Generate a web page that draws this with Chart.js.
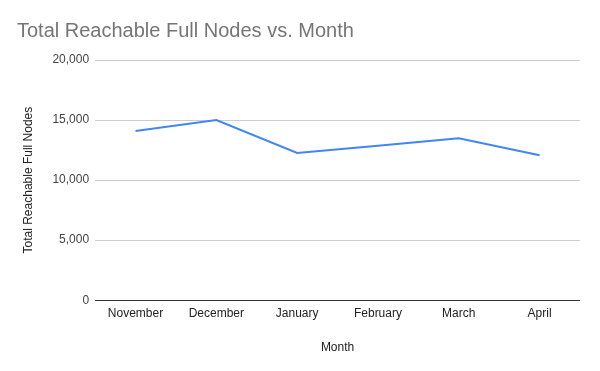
<!DOCTYPE html>
<html>
<head>
<meta charset="utf-8">
<script src="https://cdn.jsdelivr.net/npm/chart.js@4/dist/chart.umd.min.js"></script>
<style>
  html, body { margin: 0; padding: 0; background: #fff; }
  #wrap { width: 600px; height: 371px; }
</style>
</head>
<body>
<div id="wrap"><canvas id="nodes_chart" width="600" height="371"></canvas></div>
<script>
const months = ['November', 'December', 'January', 'February', 'March', 'April'];
const reachableNodes = [14080, 15000, 12260, 12870, 13490, 12070];
const yTicks = [0, 5000, 10000, 15000, 20000];

const ctx = document.getElementById('nodes_chart').getContext('2d');

Chart.defaults.font.family = "'Liberation Sans', Arial, sans-serif";
Chart.defaults.font.size = 12;
Chart.defaults.color = '#222222';

const chart = new Chart(ctx, {
    type: 'line',
    data: {
        labels: months,
        datasets: [{
            label: 'Total Reachable Full Nodes',
            data: reachableNodes,
            borderColor: '#4285F4',
            borderWidth: 2,
            pointRadius: 0,
            tension: 0,
            fill: false
        }]
    },
    options: {
        responsive: false,
        animation: false,
        layout: {
            padding: { left: 17, right: 20, bottom: 12 }
        },
        plugins: {
            legend: { display: false },
            tooltip: { enabled: false },
            title: {
                display: true,
                text: 'Total Reachable Full Nodes vs. Month',
                align: 'start',
                color: '#757575',
                font: { size: 20, weight: 'normal' },
                padding: { top: 19, bottom: 17 }
            }
        },
        scales: {
            x: {
                offset: true,
                grid: { display: false, drawTicks: false },
                border: { display: false },
                ticks: { padding: 6, color: '#222222', maxRotation: 0 },
                title: {
                    display: true,
                    text: 'Month',
                    color: '#222222',
                    padding: { top: 14 }
                }
            },
            y: {
                min: 0,
                max: 20000,
                afterBuildTicks: (axis) => {
                    axis.ticks = yTicks.map(v => ({ value: v }));
                },
                grid: {
                    drawTicks: false,
                    color: (c) => c.tick && c.tick.value === 0 ? '#333333' : '#cccccc',
                    lineWidth: 1
                },
                border: { display: false },
                ticks: {
                    padding: 6,
                    color: '#444444',
                    callback: (v) => v.toLocaleString('en-US')
                },
                title: {
                    display: true,
                    text: 'Total Reachable Full Nodes',
                    color: '#222222',
                    padding: { bottom: 11 }
                }
            }
        }
    }
});
</script>
</body>
</html>
